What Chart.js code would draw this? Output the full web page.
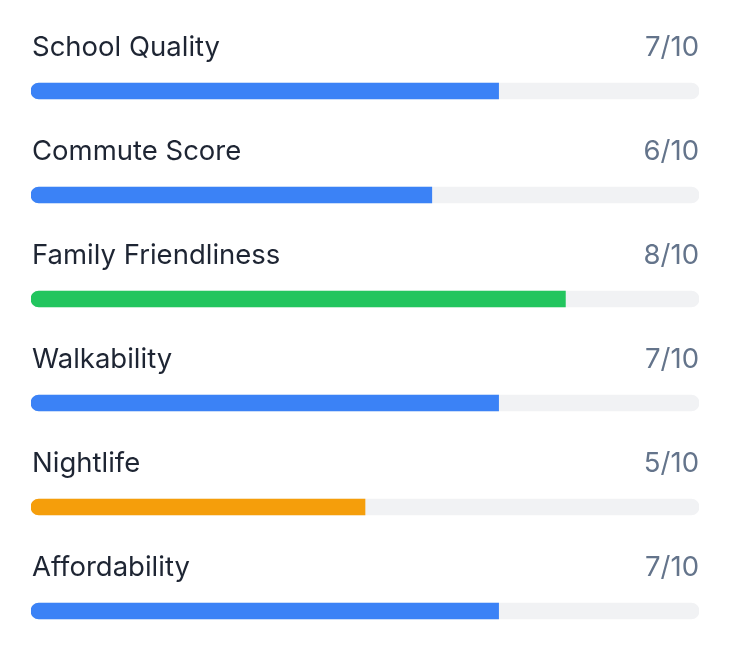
<!DOCTYPE html>
<html>
<head>
<meta charset="utf-8">
<script src="https://cdn.jsdelivr.net/npm/chart.js@4/dist/chart.umd.min.js"></script>
<style>
  html, body { margin: 0; padding: 0; background: #ffffff; }
  #wrap { position: relative; width: 744px; height: 668px; }
</style>
</head>
<body>
<div id="wrap"><canvas id="scores"></canvas></div>
<script>
'use strict';

// data for the neighbourhood scores
var categories = ['School Quality', 'Commute Score', 'Family Friendliness', 'Walkability', 'Nightlife', 'Affordability'];
var scores = [7, 6, 8, 7, 5, 7];
var maxScore = 10;
var barColors = ['#3b82f6', '#3b82f6', '#22c55e', '#3b82f6', '#f59e0b', '#3b82f6'];

var trackData = categories.map(function () { return maxScore; });
var valueLabels = scores.map(function (s) { return s + '/' + maxScore; });

// draws the name above each bar and the score on the right
var labelPlugin = {
  id: 'rowLabels',
  afterDatasetsDraw: function (chart) {
    var ctx = chart.ctx;
    var yScale = chart.scales.y;
    var area = chart.chartArea;
    ctx.save();
    ctx.textBaseline = 'alphabetic';
    ctx.font = '400 27.5px Inter, "Noto Sans", sans-serif';
    for (var i = 0; i < categories.length; i++) {
      var y = yScale.getPixelForValue(i) - 35;
      ctx.fillStyle = '#1e2533';
      ctx.textAlign = 'left';
      ctx.fillText(categories[i], area.left + 1, y);
      ctx.fillStyle = '#64748b';
      ctx.textAlign = 'right';
      ctx.fillText(valueLabels[i], area.right, y);
    }
    ctx.restore();
  }
};

new Chart(document.getElementById('scores'), {
  type: 'bar',
  data: {
    labels: categories,
    datasets: [
      {
        data: scores,
        backgroundColor: barColors,
        borderRadius: { topLeft: 8, bottomLeft: 8, topRight: 0, bottomRight: 0 },
        borderSkipped: false,
        barThickness: 16,
        grouped: false,
        order: 0
      },
      {
        data: trackData,
        backgroundColor: '#f1f2f4',
        borderRadius: 8,
        borderSkipped: false,
        barThickness: 16,
        grouped: false,
        order: 1
      }
    ]
  },
  options: {
    indexAxis: 'y',
    responsive: true,
    maintainAspectRatio: false,
    animation: false,
    layout: { padding: { top: 39, bottom: 5, left: 31, right: 45 } },
    plugins: { legend: { display: false }, tooltip: { enabled: false } },
    scales: {
      x: { min: 0, max: maxScore, display: false },
      y: { display: false }
    }
  },
  plugins: [labelPlugin]
});
</script>
</body>
</html>
